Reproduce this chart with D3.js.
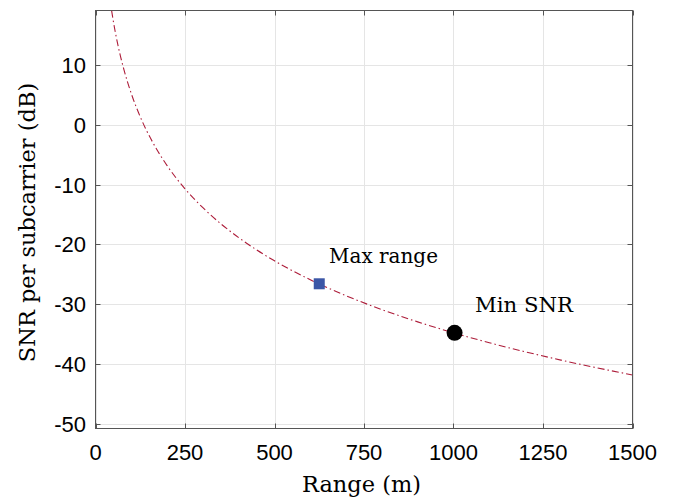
<!DOCTYPE html>
<html>
<head>
<meta charset="utf-8">
<script src="https://cdn.jsdelivr.net/npm/d3@7"></script>
<style>
  body { margin: 0; background: #fff; }
  svg { display: block; }
</style>
</head>
<body>
<div id="chart"></div>
<script>
// values
const rangeM = [45, 50, 55, 60, 65, 70, 75, 80, 90, 100, 120, 140, 160, 180, 200, 250, 300, 350, 400, 450, 500, 600, 700, 800, 900, 1000, 1100, 1200, 1300, 1400, 1500];
const snrDb = [19.07, 17.24, 15.59, 14.07, 12.68, 11.40, 10.20, 9.08, 7.03, 5.20, 2.03, -0.65, -2.96, -5.01, -6.84, -10.72, -13.88, -16.56, -18.88, -20.93, -22.76, -25.93, -28.60, -30.92, -32.97, -34.80, -36.46, -37.97, -39.36, -40.65, -41.84];

const maxRange = { range: 625, snr: -26.6, label: "Max range" };
const minSnr = { range: 1003, snr: -34.8, label: "Min SNR" };

const xTicks = [0, 250, 500, 750, 1000, 1250, 1500];
const yTicks = [-50, -40, -30, -20, -10, 0, 10];

const W = 675, H = 498;
const mLeft = 95.5, mRight = 632.5, mTop = 10.5, mBottom = 428.5;

const svg = d3.select("#chart").append("svg")
	.attr("width", W)
	.attr("height", H);

const x = d3.scaleLinear().domain([0, 1500]).range([mLeft, mRight]);
const y = d3.scaleLinear().domain([-50.8, 19.1]).range([mBottom, mTop]);

// grid
const grid = svg.append("g").attr("stroke", "#e5e5e5").attr("stroke-width", 1);
grid.selectAll("line.gx").data(xTicks).enter().append("line")
	.attr("x1", d => Math.round(x(d)) + 0.5).attr("x2", d => Math.round(x(d)) + 0.5)
	.attr("y1", mTop).attr("y2", mBottom);
grid.selectAll("line.gy").data(yTicks).enter().append("line")
	.attr("y1", d => Math.round(y(d)) + 0.5).attr("y2", d => Math.round(y(d)) + 0.5)
	.attr("x1", mLeft).attr("x2", mRight);

// curve
const line = d3.line()
	.x((d, i) => x(rangeM[i]))
	.y(d => y(d))
	.curve(d3.curveMonotoneX);

svg.append("defs").append("clipPath").attr("id", "clip")
	.append("rect").attr("x", mLeft).attr("y", mTop).attr("width", mRight - mLeft).attr("height", mBottom - mTop);

svg.append("path")
	.datum(snrDb)
	.attr("clip-path", "url(#clip)")
	.attr("fill", "none")
	.attr("stroke", "#ad1d3a")
	.attr("stroke-width", 1.1)
	.attr("stroke-dasharray", "7,3,1.5,3")
	.attr("d", line);

// markers
svg.append("rect")
	.attr("x", x(maxRange.range) - 5.5)
	.attr("y", y(maxRange.snr) - 5.5)
	.attr("width", 11).attr("height", 11)
	.attr("fill", "#3b56a6");

svg.append("circle")
	.attr("cx", x(minSnr.range))
	.attr("cy", y(minSnr.snr))
	.attr("r", 8)
	.attr("fill", "#000");

// serif text sized to the width it takes in the reference
const serif = "'DejaVu Serif', 'Liberation Serif', serif";
function fitWidth(sel, target) {
	const w = sel.node().getComputedTextLength();
	const fs = parseFloat(sel.attr("font-size"));
	sel.attr("font-size", fs * target / w);
	return fs * target / w;
}

const t1 = svg.append("text")
	.attr("x", 329).attr("y", 263)
	.attr("font-family", serif).attr("font-size", 18)
	.text(maxRange.label);
fitWidth(t1, 109);
const t2 = svg.append("text")
	.attr("x", 475).attr("y", 312)
	.attr("font-family", serif).attr("font-size", 18)
	.text(minSnr.label);
fitWidth(t2, 98);

// axes box and ticks (MATLAB style: ticks inside, on all sides)
const axisColor = "#555";
const tk = 5;
const ax = svg.append("g").attr("stroke", axisColor).attr("stroke-width", 1);
ax.append("rect")
	.attr("x", mLeft).attr("y", mTop).attr("width", mRight - mLeft).attr("height", mBottom - mTop)
	.attr("fill", "none");
xTicks.forEach(t => {
	const px = Math.round(x(t)) + 0.5;
	ax.append("line").attr("x1", px).attr("x2", px).attr("y1", mBottom).attr("y2", mBottom - tk);
	ax.append("line").attr("x1", px).attr("x2", px).attr("y1", mTop).attr("y2", mTop + tk);
});
yTicks.forEach(t => {
	const py = Math.round(y(t)) + 0.5;
	ax.append("line").attr("y1", py).attr("y2", py).attr("x1", mLeft).attr("x2", mLeft + tk);
	ax.append("line").attr("y1", py).attr("y2", py).attr("x1", mRight).attr("x2", mRight - tk);
});

// tick labels
const sans = "'Liberation Sans', Arial, sans-serif";
svg.append("g").selectAll("text").data(xTicks).enter().append("text")
	.attr("x", d => x(d)).attr("y", 460)
	.attr("text-anchor", "middle")
	.attr("font-family", sans).attr("font-size", 22)
	.attr("fill", "#000")
	.text(d => String(d));
svg.append("g").selectAll("text").data(yTicks).enter().append("text")
	.attr("x", 86).attr("y", d => y(d) + 8)
	.attr("text-anchor", "end")
	.attr("font-family", sans).attr("font-size", 22)
	.attr("fill", "#000")
	.text(d => String(d));

// axis labels
const xl = svg.append("text")
	.attr("x", 361.5).attr("y", 492)
	.attr("text-anchor", "middle")
	.attr("font-family", serif).attr("font-size", 20)
	.text("Range (m)");
const labelSize = fitWidth(xl, 119);
svg.append("text")
	.attr("transform", `translate(35,${(mTop + mBottom) / 2 + 3}) rotate(-90)`)
	.attr("text-anchor", "middle")
	.attr("font-family", serif).attr("font-size", labelSize)
	.text("SNR per subcarrier (dB)");
</script>
</body>
</html>
